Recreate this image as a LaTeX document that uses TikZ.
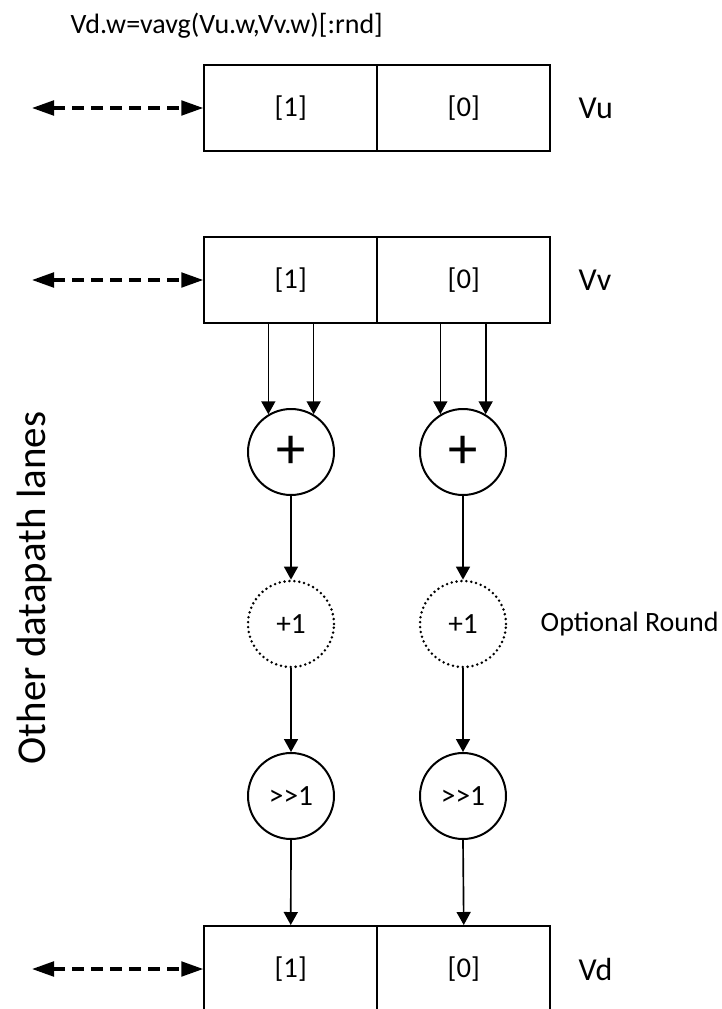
\documentclass[tikz,border=0pt]{standalone}
\usepackage{fontspec}
\setmainfont{Carlito}
\usetikzlibrary{arrows.meta}
\begin{document}
\begin{tikzpicture}[x=0.75pt,y=-0.75pt,
  cell/.style={draw, line width=1.5pt, minimum width=129.75pt, minimum height=64.5pt, inner sep=0pt, font=\fontsize{21.5}{25}\selectfont},
  op/.style={circle, draw, line width=1.5pt, minimum size=64.5pt, inner sep=0pt, font=\fontsize{22}{25}\selectfont},
  plusop/.style={op, font=\fontsize{44}{46}\selectfont},
  optop/.style={op, dash pattern=on 0pt off 3.7pt, line cap=round, line width=2.1pt},
  regname/.style={anchor=west, font=\fontsize{24}{28}\selectfont},
  plain/.style={font=\fontsize{21}{25}\selectfont},
  arr/.style={-{Triangle[width=10.5pt,length=9.75pt]}, line width=1.25pt},
  dasharr/.style={{Triangle[width=11pt,length=16.5pt]}-{Triangle[width=11pt,length=16.5pt]}, line width=2.4pt, dash pattern=on 9pt off 5.25pt},
]
\clip (0,0) rectangle (721,1009);

% title
\node[plain, anchor=west] (title) at (66,26) {Vd.w=vavg(Vu.w,Vv.w)[:rnd]};

% registers
\node[cell] (u1) at (290.75,108) {[1]};
\node[cell] (u0) at (463.75,108) {[0]};
\node[regname] (vu) at (574,108) {Vu};

\node[cell] (v1) at (290.75,280) {[1]};
\node[cell] (v0) at (463.75,280) {[0]};
\node[regname] (vv) at (574,280) {Vv};

\node[cell] (d1) at (290.75,969) {[1]};
\node[cell] (d0) at (463.75,969) {[0]};
\node[regname] (vd) at (574,969) {Vd};

% operators
\node[plusop] (p1) at (291,452) {+};
\node[plusop] (p0) at (463,452) {+};
\node[optop] (r1) at (291,624) {+1};
\node[optop] (r0) at (463,624) {+1};
\node[op] (s1) at (291,796) {>{}>1};
\node[op] (s0) at (463,796) {>{}>1};

\node[plain, anchor=west] (optlabel) at (536,624) {Optional Round};

\node[rotate=90, anchor=base, font=\fontsize{30.75}{34}\selectfont] (lanes) at (45,588) {Other datapath lanes};

% side arrows
\coordinate (lu) at (32,108);
\coordinate (lv) at (32,280);
\coordinate (ld) at (32,969);
\draw[dasharr] (lu) -- (u1.west);
\draw[dasharr] (lv) -- (v1.west);
\draw[dasharr] (ld) -- (d1.west);

% datapath
\draw[arr] (v1.south -| p1.121) -- (p1.121);
\draw[arr] (v1.south -| p1.59) -- (p1.59);
\draw[arr] (v0.south -| p0.121) -- (p0.121);
\draw[arr] (v0.south -| p0.59) -- (p0.59);

\draw[arr] (p1.south) -- (r1.north);
\draw[arr] (p0.south) -- (r0.north);
\draw[arr] (r1.south) -- (s1.north);
\draw[arr] (r0.south) -- (s0.north);
\draw[arr] (s1.south) -- (d1.north);
\draw[arr] (s0.south) -- (d0.north);
\end{tikzpicture}
\end{document}
